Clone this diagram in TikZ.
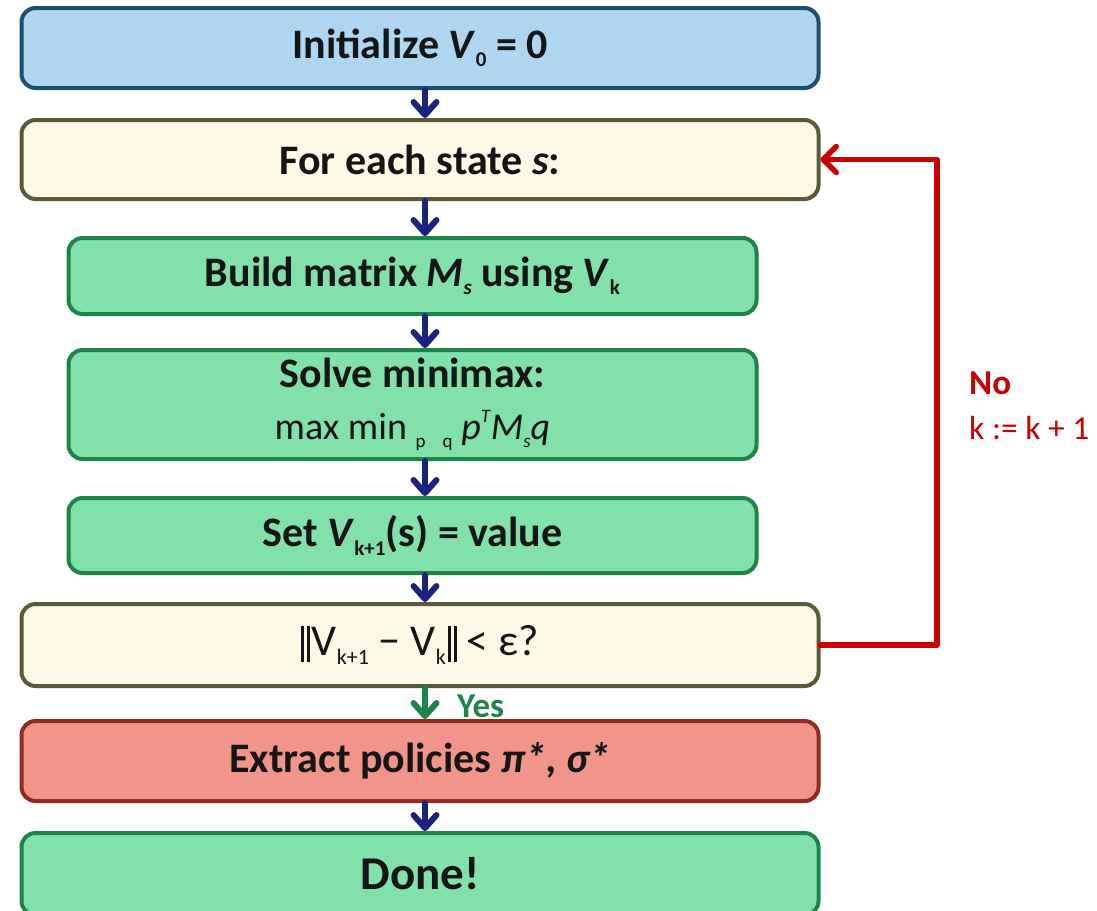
\documentclass[tikz,border=0pt]{standalone}
\usepackage{fontspec}
\setmainfont{Carlito}
\usetikzlibrary{arrows.meta}

\definecolor{inkc}{HTML}{151515}
\definecolor{bluefill}{HTML}{AED6F1}
\definecolor{blueline}{HTML}{1B4F72}
\definecolor{creamfill}{HTML}{FEF9E7}
\definecolor{oliveline}{HTML}{5B5A38}
\definecolor{greenfill}{HTML}{82E0AA}
\definecolor{greenline}{HTML}{1E8449}
\definecolor{redfill}{HTML}{F1948A}
\definecolor{redline}{HTML}{922B21}
\definecolor{navyc}{HTML}{1A237E}
\definecolor{loopred}{HTML}{CC0000}

% small lowered index and small raised index
\newcommand\lsub[2][0.5]{\raisebox{-0.2em}{\scalebox{#1}{#2}}}
\newcommand\usup[1]{\raisebox{0.45em}{\scalebox{0.5}{#1}}}
% double norm bar
\newcommand\normbar{\rule[-0.14em]{0.07em}{0.82em}\kern0.07em\rule[-0.14em]{0.07em}{0.82em}}

\tikzset{
  stepbox/.style={draw, rounded corners=14pt, line width=4pt, inner sep=0pt,
    text=inkc, align=center, font=\fontsize{42}{50}\selectfont\bfseries},
  widebox/.style={stepbox, minimum width=797pt},
  narrowbox/.style={stepbox, minimum width=688pt},
  bluebox/.style={fill=bluefill, draw=blueline},
  creambox/.style={fill=creamfill, draw=oliveline},
  greenbox/.style={fill=greenfill, draw=greenline},
  redbox/.style={fill=redfill, draw=redline},
  flow/.style={draw=navyc, line width=6pt, line cap=round,
    -{Straight Barb[length=13pt, width=23pt, round]}},
  yesflow/.style={flow, draw=greenline},
  loop/.style={draw=loopred, line width=5.5pt, line join=round, line cap=round,
    -{Straight Barb[length=13pt, width=26pt, round]}},
}

\begin{document}
\begin{tikzpicture}[x=1pt, y=-1pt]
  \useasboundingbox (0,0) rectangle (1097,910);
  \clip (0,0) rectangle (1097,910);

  % process boxes
  \node[widebox, bluebox, minimum height=80pt] (init) at (420,48)
    {Initialize \textit{V}\lsub{0} = 0};
  \node[widebox, creambox, minimum height=79pt] (each) at (420,159.5)
    {For each state \textit{s}:};
  \node[narrowbox, greenbox, minimum height=76pt] (build) at (412.5,276)
    {Build matrix \textit{M}\lsub{\textit{s}} using \textit{V}\lsub{k}};
  \node[narrowbox, greenbox, minimum height=109pt] (solve) at (412.5,404.5)
    {Solve minimax:\\[2pt]
     {\mdseries\fontsize{38}{46}\selectfont max min \lsub{p\hspace{0.9em}q} \textit{p}\usup{\textit{T}}\textit{M}\lsub{\textit{s}}\textit{q}}};
  \node[narrowbox, greenbox, minimum height=75pt] (setv) at (412.5,535.5)
    {Set \textit{V}\lsub{k+1}(s) = value};
  \node[widebox, creambox, minimum height=82pt, font=\fontsize{44}{50}\selectfont] (test) at (420,645)
    {\normbar\kern0.04em V\lsub{k+1} − V\lsub{k}\kern0.04em\normbar\ < ε?};
  \node[widebox, redbox, minimum height=80pt] (extract) at (420,761)
    {Extract policies \textit{π*, σ*}};
  \node[widebox, greenbox, minimum height=82pt, font=\fontsize{47}{52}\selectfont\bfseries] (done) at (420,874)
    {Done!};

  % column of the downward connectors
  \coordinate (col) at (425,0);
  \coordinate (back) at (937,0);

  \draw[flow] (init.south -| col) -- (each.north -| col);
  \draw[flow] (each.south -| col) -- (build.north -| col);
  \draw[flow] (build.south -| col) -- (solve.north -| col);
  \draw[flow] (solve.south -| col) -- (setv.north -| col);
  \draw[flow] (setv.south -| col) -- (test.north -| col);
  \draw[yesflow] (test.south -| col) -- (extract.north -| col);
  \draw[flow] (extract.south -| col) -- (done.north -| col);

  % repeat loop
  \draw[loop] (test.east) -- (test.east -| back) -- (each.east -| back) -- (each.east);

  % connector labels
  \node[anchor=west, inner sep=0pt, text=greenline, font=\fontsize{35}{40}\selectfont\bfseries] (yes) at (457,706) {Yes};
  \node[anchor=west, inner sep=0pt, text=loopred, font=\fontsize{35}{40}\selectfont\bfseries] (no) at (969,383) {No};
  \node[anchor=west, inner sep=0pt, text=loopred, font=\fontsize{33.5}{38}\selectfont] (inc) at (969,428) {k := k + 1};
\end{tikzpicture}
\end{document}
